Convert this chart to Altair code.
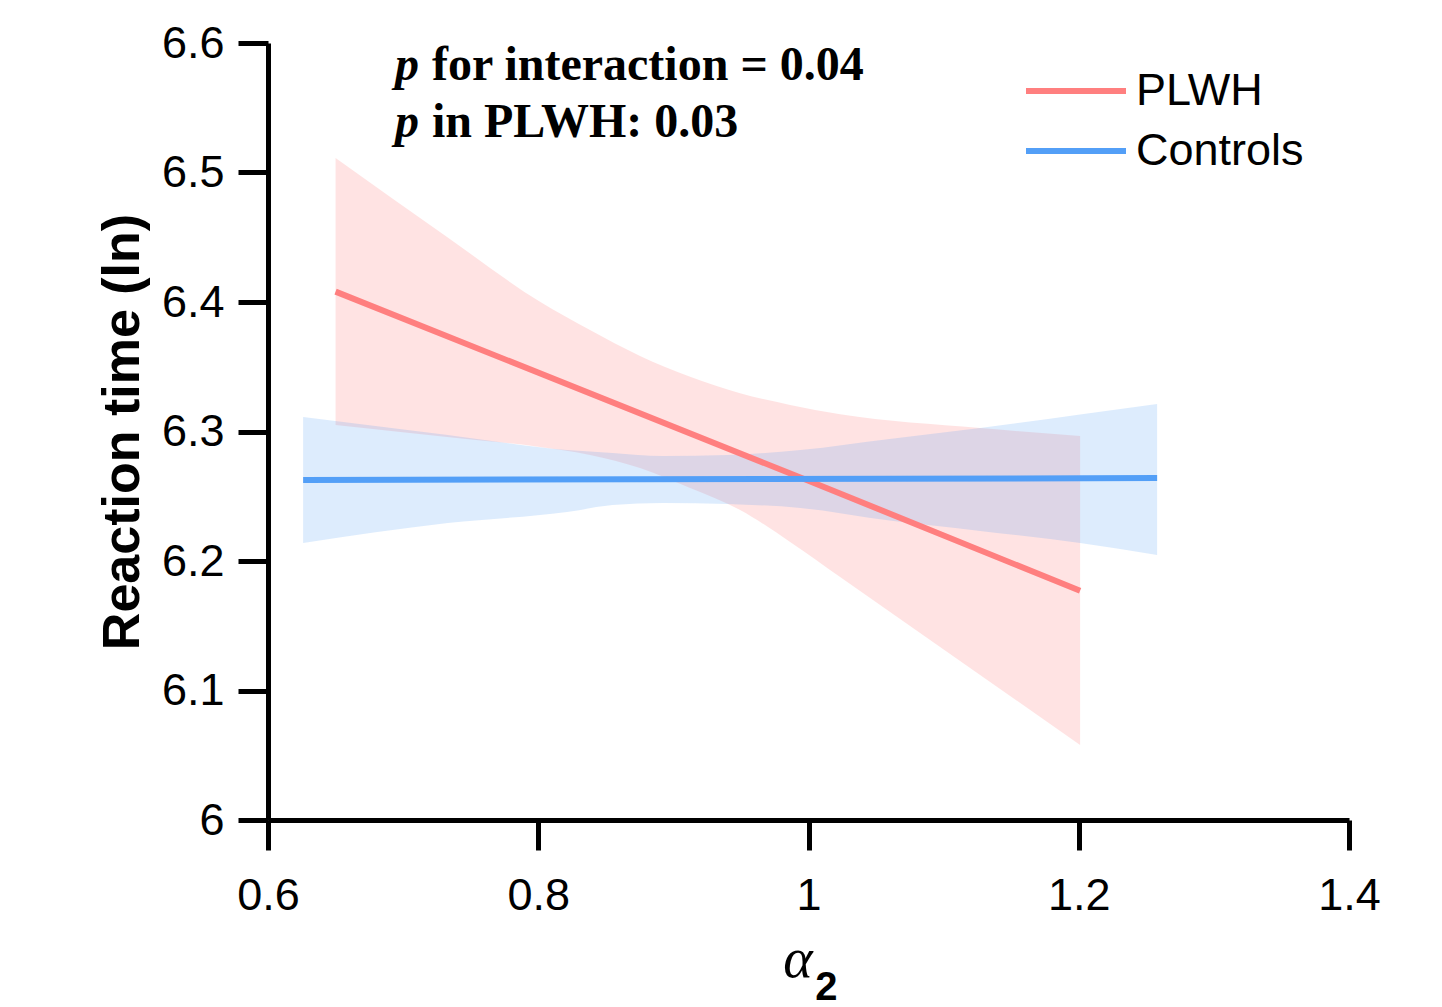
import altair as alt
import pandas as pd

# ---- data ----
plwh_line_x = [0.65, 1.0, 1.201]
plwh_line_y = [6.408, 6.262, 6.177]
ctrl_line_x = [0.626, 1.258]
ctrl_line_y = [6.2625, 6.264]

plwh_band_x = [0.65, 0.7325, 0.8013, 0.8383, 0.8753, 0.9124, 0.9494, 0.9864, 1.0234, 1.127, 1.201]
plwh_band_lo = [6.3050, 6.2958, 6.2880, 6.2819, 6.2718, 6.2564, 6.2394, 6.2147, 6.1876, 6.1120, 6.0579]
plwh_band_hi = [6.5112, 6.4502, 6.4002, 6.3783, 6.3583, 6.3423, 6.3295, 6.3205, 6.3133, 6.3027, 6.2965]

ctrl_band_x = [0.626, 0.733, 0.8213, 0.855, 0.8924, 0.94, 0.994, 1.06, 1.127, 1.201, 1.258]
ctrl_band_lo = [6.2139, 6.2293, 6.2378, 6.2432, 6.2448, 6.2440, 6.2409, 6.2312, 6.2232, 6.2139, 6.2046]
ctrl_band_hi = [6.3112, 6.2973, 6.2857, 6.2834, 6.2811, 6.2819, 6.2857, 6.2942, 6.3027, 6.3132, 6.3212]

groups = ["PLWH", "Controls"]
line_colors = ["#FF7F7F", "#539FF7"]

x_ticks = [0.6, 0.8, 1.0, 1.2, 1.4]
y_ticks = [6.0, 6.1, 6.2, 6.3, 6.4, 6.5, 6.6]

annot_x = [0.694, 0.694]
annot_y = [6.5714, 6.5274]
annot_p = ["p", "p"]
annot_rest = ["for interaction = 0.04", "in PLWH: 0.03"]

# ---- tables ----
lines_plwh = pd.DataFrame({"x": plwh_line_x, "y": plwh_line_y, "group": "PLWH"})
lines_ctrl = pd.DataFrame({"x": ctrl_line_x, "y": ctrl_line_y, "group": "Controls"})
band_plwh = pd.DataFrame({"x": plwh_band_x, "lo": plwh_band_lo, "hi": plwh_band_hi})
band_ctrl = pd.DataFrame({"x": ctrl_band_x, "lo": ctrl_band_lo, "hi": ctrl_band_hi})
annot = pd.DataFrame({"x": annot_x, "y": annot_y, "p": annot_p, "rest": annot_rest})

xscale = alt.Scale(domain=[0.6, 1.4], nice=False, zero=False)
yscale = alt.Scale(domain=[6.0, 6.6], nice=False, zero=False)
cscale = alt.Scale(domain=groups, range=line_colors)

x_axis = alt.Axis(values=x_ticks, format=".1~f", title=None, grid=False, labelFlush=False)
y_axis = alt.Axis(values=y_ticks, format=".1~f", title="Reaction time (ln)", grid=False, labelFlush=False)

X = alt.X("x:Q", scale=xscale, axis=x_axis)
Y = alt.Y("y:Q", scale=yscale, axis=y_axis)

band1 = alt.Chart(band_plwh).mark_area(color="#FF8080", opacity=0.22, interpolate="monotone").encode(
    x=alt.X("x:Q", scale=xscale, axis=x_axis),
    y=alt.Y("lo:Q", scale=yscale, axis=y_axis),
    y2="hi:Q",
)
band2 = alt.Chart(band_ctrl).mark_area(color="#539FF7", opacity=0.2, interpolate="monotone").encode(
    x=alt.X("x:Q", scale=xscale),
    y=alt.Y("lo:Q", scale=yscale),
    y2="hi:Q",
)

legend = alt.Legend(
    title=None, orient="none", legendX=780, legendY=20,
    symbolType="M-2,0H2", symbolSize=2500, symbolStrokeWidth=6,
    labelFontSize=45, labelFont="Liberation Sans", labelColor="black",
    labelOffset=32, rowPadding=9, symbolOffset=0, labelLimit=0,
)

line1 = alt.Chart(lines_plwh).mark_line(strokeWidth=6).encode(
    x=X, y=Y, color=alt.Color("group:N", scale=cscale, legend=legend)
)
line2 = alt.Chart(lines_ctrl).mark_line(strokeWidth=6).encode(
    x=X, y=Y, color=alt.Color("group:N", scale=cscale, legend=legend)
)

txt_p = alt.Chart(annot).mark_text(
    align="left", baseline="alphabetic", font="Liberation Serif",
    fontSize=48, fontWeight="bold", fontStyle="italic", color="black",
).encode(x=alt.X("x:Q", scale=xscale), y=alt.Y("y:Q", scale=yscale), text="p:N")

txt_rest = alt.Chart(annot).mark_text(
    align="left", baseline="alphabetic", font="Liberation Serif",
    fontSize=48, fontWeight="bold", color="black", dx=37,
).encode(x=alt.X("x:Q", scale=xscale), y=alt.Y("y:Q", scale=yscale), text="rest:N")

xt_alpha = pd.DataFrame({"x": [1.003], "y": [5.8788], "t": ["α"]})
xt_sub = pd.DataFrame({"x": [1.005], "y": [5.861], "t": ["2"]})

alpha_txt = alt.Chart(xt_alpha).mark_text(
    align="right", baseline="alphabetic", font="Liberation Serif",
    fontSize=56, fontStyle="italic", color="black",
).encode(x=alt.X("x:Q", scale=xscale), y=alt.Y("y:Q", scale=yscale), text="t:N")

sub_txt = alt.Chart(xt_sub).mark_text(
    align="left", baseline="alphabetic", font="Liberation Sans",
    fontSize=40, fontWeight="bold", color="black",
).encode(x=alt.X("x:Q", scale=xscale), y=alt.Y("y:Q", scale=yscale), text="t:N")

chart = alt.layer(
    band1, band2, line1, line2, txt_p, txt_rest, alpha_txt, sub_txt
).properties(
    width=1081, height=777,
    autosize=alt.AutoSizeParams(type="none"),
    padding={"left": 268, "top": 43, "right": 93, "bottom": 187},
    background="white",
).configure_view(
    stroke=None
).configure_axis(
    domainColor="black", domainWidth=5, tickColor="black", tickWidth=5,
    tickSize=30, labelFontSize=45, labelFont="Liberation Sans",
    labelColor="black", titleFont="Liberation Sans", titleFontSize=52,
    titleFontWeight="bold", titleColor="black",
).configure_axisX(
    labelPadding=23,
).configure_axisY(
    labelPadding=14, titlePadding=12,
)

chart.save("out.html", embed_options={"renderer": "svg", "actions": False})
